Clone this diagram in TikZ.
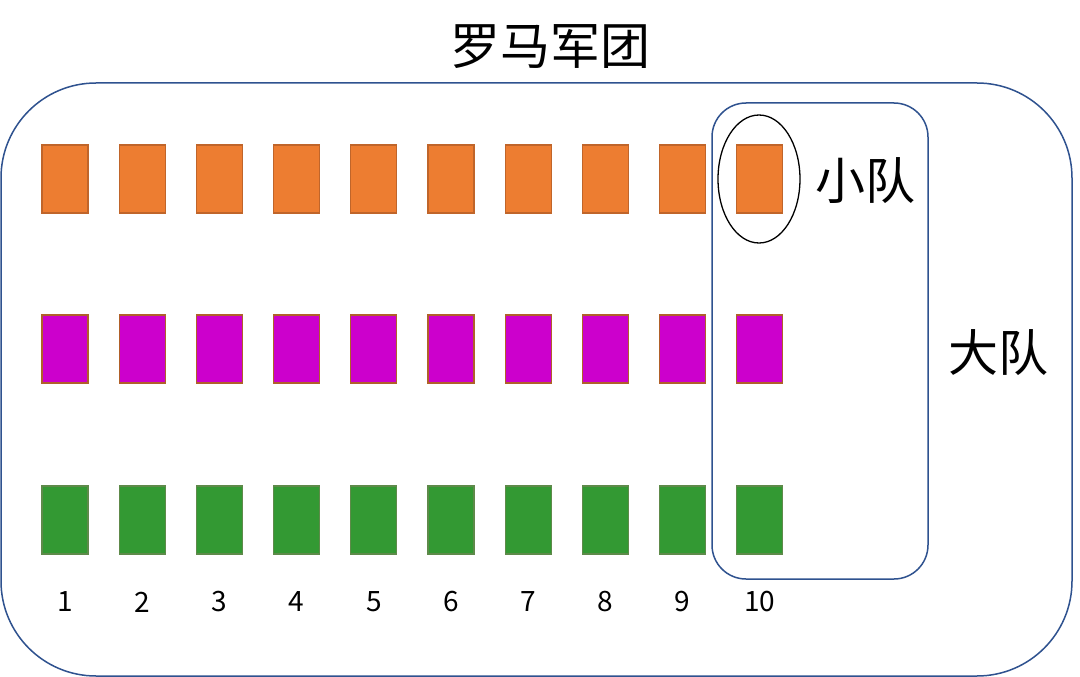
\documentclass[tikz,border=0pt]{standalone}
\usepackage{fontspec}
\setmainfont{Noto Sans CJK SC}
\newfontfamily\cjk{Noto Sans CJK SC}
\usetikzlibrary{shapes.geometric}
\definecolor{frameblue}{HTML}{2F528F}
\definecolor{orgfill}{HTML}{ED7D31}
\definecolor{orgline}{HTML}{C0652A}
\definecolor{purfill}{HTML}{CC00CC}
\definecolor{purline}{HTML}{B0602A}
\definecolor{grnfill}{HTML}{339933}
\definecolor{grnline}{HTML}{5E8A4A}
\begin{document}
\begin{tikzpicture}[x=1pt,y=-1pt,
  soldier/.style={draw, line width=1.2pt, minimum width=46pt, minimum height=68pt, inner sep=0pt},
  orgbox/.style={soldier, fill=orgfill, draw=orgline},
  purbox/.style={soldier, fill=purfill, draw=purline},
  grnbox/.style={soldier, fill=grnfill, draw=grnline},
  frame/.style={draw=frameblue, line width=1.5pt},
  numlbl/.style={font=\fontsize{28}{30}\selectfont},
  cjklbl/.style={font=\cjk\fontsize{50}{54}\selectfont}]
\useasboundingbox (0,0) rectangle (1080,677);
\fill[white] (0,0) rectangle (1080,677);
\node[cjklbl] (title) at (550,47) {罗马军团};
\draw[frame, rounded corners=95pt] (1,83) rectangle (1072,676);
\foreach \i in {1,...,10} {
  \pgfmathsetmacro{\cx}{65+(\i-1)*77.2}
  \node[orgbox] (o\i) at (\cx,179) {};
  \node[purbox] (p\i) at (\cx,349) {};
  \node[grnbox] (g\i) at (\cx,520) {};
  \node[numlbl] (n\i) at (\cx,602) {\i};
}
\draw[frame, rounded corners=34pt] (712,103) rectangle (928,579);
\node[draw=black, line width=1.3pt, ellipse, minimum width=82pt, minimum height=128pt, inner sep=0pt] (sq) at (759,179) {};
\node[cjklbl] (xiao) at (865,181) {小队};
\node[cjklbl] (da) at (998,353) {大队};
\end{tikzpicture}
\end{document}
